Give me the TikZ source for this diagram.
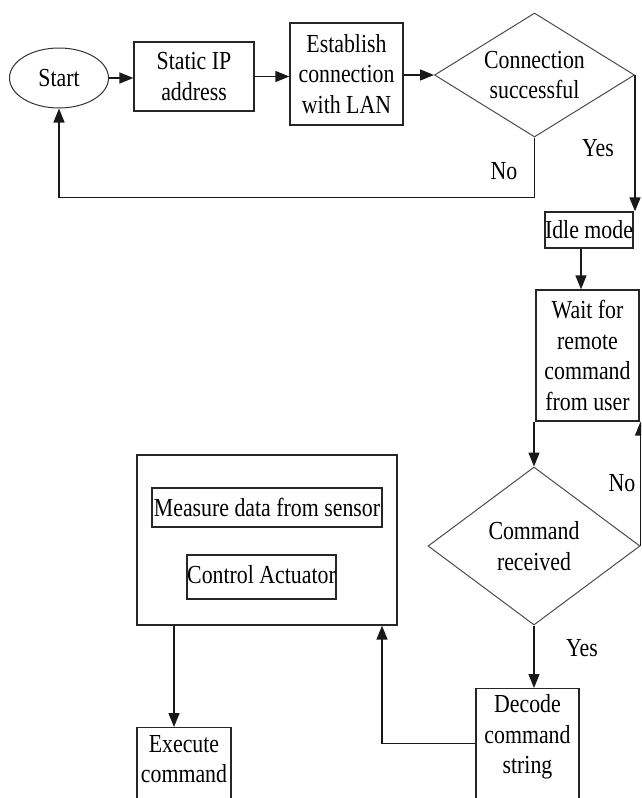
\documentclass[tikz,border=0pt]{standalone}
\usepackage{fontspec}
\setmainfont{Liberation Serif}[FakeStretch=0.84]
\usetikzlibrary{arrows.meta,shapes.geometric}
\tikzset{
  txt/.style={font=\fontsize{26}{30.5}\selectfont, align=center, inner sep=0pt, text=black},
  box/.style={draw=black!85, line width=1.3pt, rectangle, inner sep=0pt, txt},
  dia/.style={draw=black!70, line width=1pt, diamond, inner sep=0pt, txt},
  arr/.style={-{Triangle[length=14pt,width=11pt]}, line width=1.4pt, draw=black!90},
  ln/.style={line width=1.3pt, draw=black!90}
}
\begin{document}
\begin{tikzpicture}[x=1pt,y=-1pt]
\useasboundingbox (0,0) rectangle (641,798);
\clip (0,0) rectangle (641,798);
\fill[white] (0,0) rectangle (641,798);

% top row
\node[ellipse, draw=black!80, line width=1pt, minimum width=99pt, minimum height=60pt, inner sep=0pt, txt] (start) at (59,78) {Start};
\node[box, minimum width=120pt, minimum height=69pt] (static) at (194,76.5) {Static IP\\address};
\node[box, minimum width=113pt, minimum height=102pt] (est) at (346.5,74) {Establish\\connection\\with LAN};
\node[dia, aspect=1.6, minimum width=200pt, minimum height=124pt] (cs) at (534.5,75) {Connection\\successful};

% right column
\node[box, minimum width=88pt, minimum height=36pt] (idle) at (589,230) {Idle mode};
\node[box, minimum width=103pt, minimum height=131pt] (wait) at (587.5,355.5) {Wait for\\remote\\command\\from user};
\node[dia, aspect=1.35, minimum width=212pt, minimum height=158pt] (cr) at (534,546) {Command\\received};
\node[box, minimum width=103pt, minimum height=125pt, anchor=north] (decode) at (527.5,688) {};
\node[txt] (decodetxt) at (527.5,737) {Decode\\command\\string};

% left block
\node[box, minimum width=260pt, minimum height=170pt] (big) at (267,540) {};
\node[box, minimum width=230pt, minimum height=39pt] (measure) at (267,507.5) {Measure data from sensor};
\node[box, minimum width=149pt, minimum height=44pt] (control) at (261.5,577) {\raisebox{5pt}{Control Actuator}};
\node[box, minimum width=94pt, minimum height=90pt, anchor=north] (execute) at (184,727) {};
\node[txt] (executetxt) at (184,759) {Execute\\command};

% connectors
\draw[arr] (start.east) -- (static.west |- start.east);
\draw[arr] (static.east) -- (static.east -| est.west);
\draw[arr] (cs.west -| est.east) -- (cs.west);
\draw[arr] (cs.south) -- ++(0,60) -| (start.south);
\draw[arr] (cs.east) -- (cs.east |- idle.north);
\draw[arr] ([xshift=-8pt]idle.south) -- ([xshift=-8pt]idle.south |- wait.north);
\draw[arr] (cr.north |- wait.south) -- (cr.north);
\draw[arr] (cr.east) -- (cr.east |- wait.south);
\draw[arr] (cr.south) -- (cr.south |- decode.north);
\draw[arr] ([yshift=7.5pt]decode.west) -| ([xshift=115pt]big.south);
\draw[arr] ([xshift=-93pt]big.south) -- ([xshift=-93pt]big.south |- execute.north);

% labels
\node[txt] (yes1) at (598,148) {Yes};
\node[txt] (no1) at (504,171) {No};
\node[txt] (no2) at (622,483) {No};
\node[txt] (yes2) at (582,648) {Yes};
\end{tikzpicture}
\end{document}
